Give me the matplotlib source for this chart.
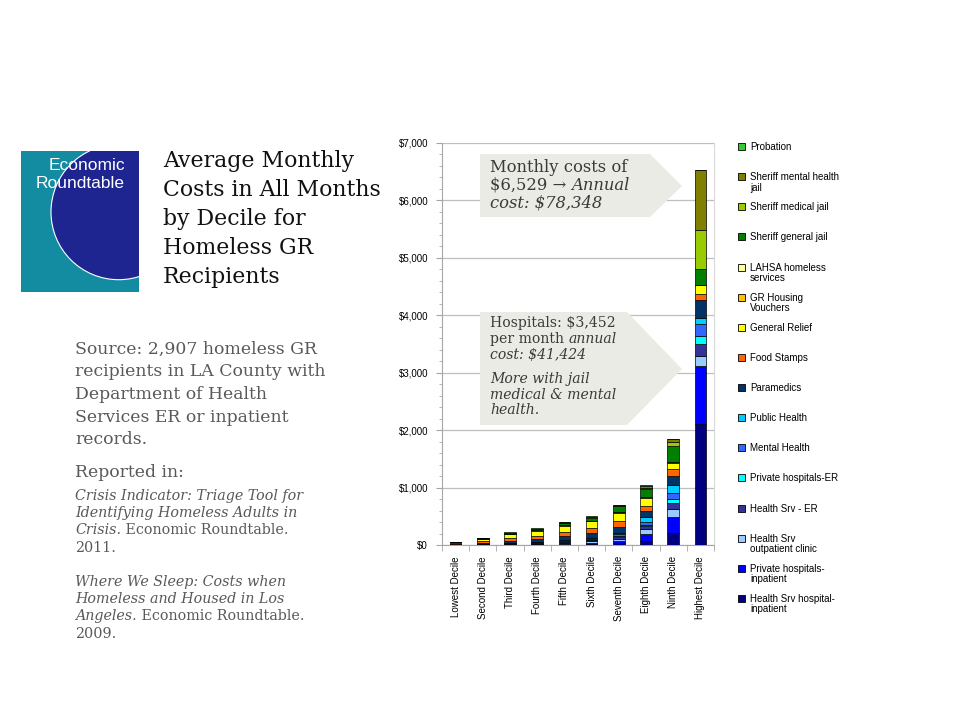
import matplotlib
matplotlib.use('Agg')
import matplotlib.pyplot as plt
from matplotlib.patches import Rectangle, Polygon, Circle
import numpy as np

W, H = 960, 720

deciles = ['Lowest Decile', 'Second Decile', 'Third Decile', 'Fourth Decile', 'Fifth Decile',
           'Sixth Decile', 'Seventh Decile', 'Eighth Decile', 'Ninth Decile', 'Highest Decile']

# monthly cost by service, stacked from the bottom up
hs_inpatient = [3, 5, 10, 10, 15, 20, 35, 70, 214, 2100]
priv_inpatient = [1, 2, 5, 5, 10, 20, 35, 130, 279, 1015]
hs_outpatient = [4, 3, 5, 5, 10, 25, 40, 70, 129, 174]
hs_er = [2, 5, 10, 15, 20, 20, 30, 60, 104, 204]
priv_er = [1, 2, 3, 5, 5, 10, 20, 25, 70, 145]
mental_health = [2, 3, 5, 5, 10, 15, 25, 45, 104, 204]
public_health = [2, 3, 5, 5, 10, 15, 30, 80, 145, 115]
paramedics = [5, 20, 35, 55, 70, 80, 100, 110, 157, 308]
food_stamps = [20, 30, 50, 60, 80, 90, 110, 95, 117, 110]
general_relief = [5, 30, 55, 75, 100, 115, 140, 130, 115, 151]
gr_housing = [3, 5, 8, 10, 10, 10, 10, 10, 10, 5]
lahsa = [2, 3, 4, 5, 5, 5, 5, 5, 5, 5]
sheriff_general = [4, 10, 15, 20, 35, 50, 95, 150, 279, 273]
sheriff_medical = [2, 3, 3, 5, 5, 10, 10, 20, 59, 679]
sheriff_mental = [2, 4, 4, 5, 10, 10, 10, 30, 55, 1035]
probation = [2, 2, 3, 5, 5, 5, 5, 10, 5, 5]

series = [hs_inpatient, priv_inpatient, hs_outpatient, hs_er, priv_er, mental_health,
          public_health, paramedics, food_stamps, general_relief, gr_housing, lahsa,
          sheriff_general, sheriff_medical, sheriff_mental, probation]
labels = ['Health Srv hospital-\ninpatient', 'Private hospitals-\ninpatient',
          'Health Srv\noutpatient clinic', 'Health Srv - ER', 'Private hospitals-ER',
          'Mental Health', 'Public Health', 'Paramedics', 'Food Stamps', 'General Relief',
          'GR Housing\nVouchers', 'LAHSA homeless\nservices', 'Sheriff general jail',
          'Sheriff medical jail', 'Sheriff mental health\njail', 'Probation']
colors = ['#000080', '#0000FF', '#99CCFF', '#333399', '#00FFFF', '#3366FF',
          '#00CCFF', '#003366', '#FF6600', '#FFFF00', '#FFC000', '#FFFF99',
          '#007F00', '#99CC00', '#808000', '#33CC33']


def px(x, y):
    return x / W, 1 - y / H


fig = plt.figure(figsize=(9.6, 7.2), dpi=100)
fig.patch.set_facecolor('white')

# ---- chart ----
ax = fig.add_axes([442 / W, 1 - 545 / H, (714 - 442) / W, (545 - 143) / H])
x = np.arange(len(deciles))
bottom = np.zeros(len(deciles))
for vals, col in zip(series, colors):
    ax.bar(x, vals, 0.42, bottom=bottom, color=col, edgecolor='black', linewidth=0.5, zorder=3)
    bottom += np.array(vals)

ax.set_xlim(-0.5, len(deciles) - 0.5)
ax.set_ylim(0, 7000)
ax.set_yticks(np.arange(0, 7001, 1000))
ax.set_yticks(np.arange(0, 7001, 200), minor=True)
ax.set_yticklabels(['$' + format(v, ',') for v in range(0, 7001, 1000)],
                   fontsize=7, family='Liberation Sans')
ax.set_xticks(x)
ax.set_xticks(np.arange(-0.5, len(deciles)), minor=True)
ax.set_xticklabels(deciles, rotation=90, fontsize=7, family='Liberation Sans')
ax.tick_params(axis='x', which='major', length=0, pad=8)
ax.tick_params(axis='x', which='minor', length=4, color='#A6A6A6')
ax.tick_params(axis='y', which='major', length=4, color='#A6A6A6', pad=6)
ax.tick_params(axis='y', which='minor', length=2.5, color='#A6A6A6')
ax.yaxis.grid(True, which='major', color='#BFBFBF', linewidth=0.9, zorder=0)
ax.set_axisbelow(True)
for s in ['left', 'bottom', 'right']:
    ax.spines[s].set_color('#A6A6A6')
ax.spines['top'].set_visible(False)
ax.spines['right'].set_color('#D9D9D9')

# ---- legend (top entry first) ----
for i, (lab, col) in enumerate(zip(labels[::-1], colors[::-1])):
    ytop = 143 + i * 30.13
    fx, fy = px(738, ytop + 7)
    fig.patches.append(Rectangle((fx, fy), 7 / W, 7 / H, transform=fig.transFigure,
                                 facecolor=col, edgecolor='black', linewidth=0.6))
    fig.text(750 / W, 1 - (ytop - 1) / H, lab, fontsize=7, family='Liberation Sans',
             va='top', ha='left', linespacing=1.05)

# ---- callout boxes ----
box_col = '#EBEBE5'
def callout(left, top, bottom, body_right, tip_x, tip_y):
    pts = [px(left, top), px(body_right, top), px(tip_x, tip_y),
           px(body_right, bottom), px(left, bottom)]
    fig.patches.append(Polygon(pts, closed=True, transform=fig.transFigure,
                               facecolor=box_col, edgecolor='none', zorder=5))

callout(480, 154, 217, 650, 682, 186)
callout(480, 312, 425, 627, 682, 369)

renderer = fig.canvas.get_renderer()


def runs(xp, yp, parts, size, color, family='DejaVu Serif'):
    cur = xp
    for txt, st in parts:
        t = fig.text(cur / W, 1 - yp / H, txt, fontsize=size, style=st, color=color,
                     family=family, va='baseline', ha='left', zorder=6)
        cur += t.get_window_extent(renderer).width


dark = '#3A3A3A'
runs(490, 172, [('Monthly costs of', 'normal')], 11.8, dark)
runs(490, 190, [('$6,529 \u2192 ', 'normal'), ('Annual', 'italic')], 11.8, dark)
runs(490, 208, [('cost: $78,348', 'italic')], 11.8, dark)

runs(490, 327, [('Hospitals: $3,452', 'normal')], 10.1, dark)
runs(490, 343, [('per month ', 'normal'), ('annual', 'italic')], 10.1, dark)
runs(490, 359, [('cost: $41,424', 'italic')], 10.1, dark)
runs(490, 383, [('More with jail', 'italic')], 10.1, dark)
runs(490, 399, [('medical & mental', 'italic')], 10.1, dark)
runs(490, 414, [('health.', 'italic')], 10.1, dark)

# ---- title ----
title_lines = ['Average Monthly', 'Costs in All Months', 'by Decile for', 'Homeless GR', 'Recipients']
for i, line in enumerate(title_lines):
    runs(163, 167 + i * 29, [(line, 'normal')], 15.8, '#111111')

# ---- source notes ----
grey = '#595959'
src_lines = ['Source: 2,907 homeless GR', 'recipients in LA County with', 'Department of Health',
             'Services ER or inpatient', 'records.']
for i, line in enumerate(src_lines):
    runs(75, 354 + i * 22.5, [(line, 'normal')], 12.4, grey)
runs(75, 477, [('Reported in:', 'normal')], 12.4, grey)

ref_lines = [
    [('Crisis Indicator: Triage Tool for', 'italic')],
    [('Identifying Homeless Adults in', 'italic')],
    [('Crisis.', 'italic'), (' Economic Roundtable.', 'normal')],
    [('2011.', 'normal')],
    None,
    [('Where We Sleep: Costs when', 'italic')],
    [('Homeless and Housed in Los', 'italic')],
    [('Angeles.', 'italic'), (' Economic Roundtable.', 'normal')],
    [('2009.', 'normal')],
]
for i, parts in enumerate(ref_lines):
    if parts:
        runs(75, 500 + i * 17.2, parts, 10.3, grey)

# ---- logo ----
lax = fig.add_axes([21 / W, 1 - 292 / H, (139 - 21) / W, (292 - 151) / H])
lax.set_xlim(21, 139)
lax.set_ylim(292, 151)
lax.axis('off')
lax.add_patch(Rectangle((21, 151), 118, 141, facecolor='#138CA2', edgecolor='none'))
circ = Circle((118.7, 212), 67.7, facecolor='#1E2490', edgecolor='white', linewidth=0.8)
lax.add_patch(circ)
circ.set_clip_path(Rectangle((21, 151), 118, 141, transform=lax.transData))
lax.text(125, 166, 'Economic', color='white', fontsize=12.5, family='Liberation Sans',
         ha='right', va='center')
lax.text(125, 184, 'Roundtable', color='white', fontsize=12.5, family='Liberation Sans',
         ha='right', va='center')

fig.savefig('out.png', dpi=100)
